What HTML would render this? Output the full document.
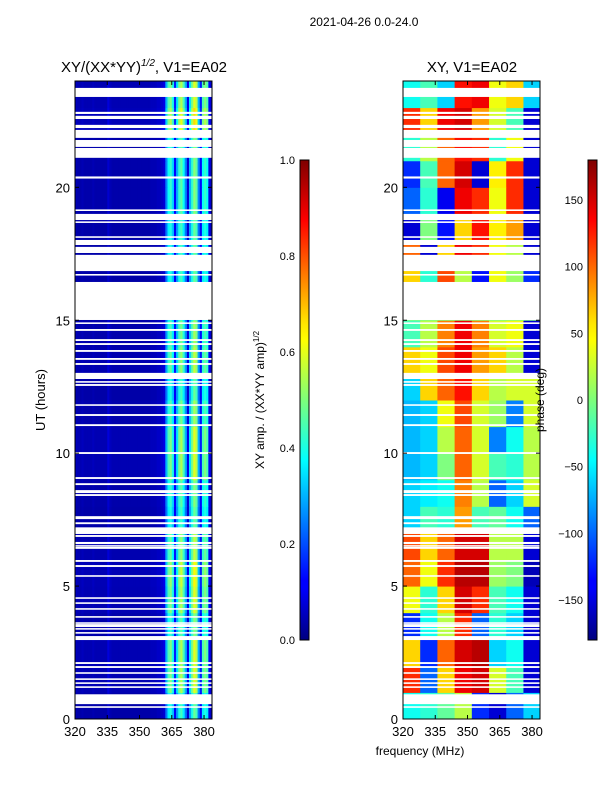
<!DOCTYPE html>
<html><head><meta charset="utf-8">
<style>
html,body{margin:0;padding:0;background:#fff;}
svg text{font-family:"Liberation Sans","DejaVu Sans",sans-serif;fill:#000;}
</style></head>
<body>
<svg id="fig" width="600" height="800" viewBox="0 0 600 800" xmlns="http://www.w3.org/2000/svg">
<defs>
<linearGradient id="jet" x1="0" y1="1" x2="0" y2="0">
<stop offset="0" stop-color="#00007f"/><stop offset="0.11" stop-color="#0000ff"/>
<stop offset="0.125" stop-color="#0000ff"/><stop offset="0.34" stop-color="#00dcff"/>
<stop offset="0.375" stop-color="#00ffff"/><stop offset="0.5" stop-color="#7dff7a"/>
<stop offset="0.625" stop-color="#ffff00"/><stop offset="0.66" stop-color="#ffe600"/>
<stop offset="0.875" stop-color="#ff0000"/><stop offset="1" stop-color="#7f0000"/>
</linearGradient>
<clipPath id="clipL"><rect x="75" y="81" width="137" height="638"/></clipPath>
<clipPath id="clipR"><rect x="403" y="81" width="137" height="638"/></clipPath>
</defs>
<text x="364" y="26" font-size="12" text-anchor="middle">2021-04-26 0.0-24.0</text>
<text x="144" y="72" font-size="15" text-anchor="middle">XY/(XX*YY)<tspan font-size="10" dy="-6" font-style="italic">1/2</tspan><tspan dy="6">, V1=EA02</tspan></text>
<text x="472" y="72" font-size="15" text-anchor="middle">XY, V1=EA02</text>
<g id="left" clip-path="url(#clipL)"></g>
<g id="right" clip-path="url(#clipR)"></g>
<g id="axes"></g>
<text x="45" y="400" font-size="13" text-anchor="middle" transform="rotate(-90 45 400)">UT (hours)</text>
<text x="420" y="755" font-size="12" text-anchor="middle">frequency (MHz)</text>
<rect x="300" y="160" width="9" height="480" fill="url(#jet)" stroke="#000" stroke-width="1"/>
<rect x="588" y="160" width="9" height="480" fill="url(#jet)" stroke="#000" stroke-width="1"/>
<text x="264" y="400" font-size="12" text-anchor="middle" transform="rotate(-90 264 400)">XY amp. / (XX*YY amp)<tspan font-size="8" dy="-5">1/2</tspan></text>
<text x="544" y="400" font-size="12" text-anchor="middle" transform="rotate(-90 544 400)">phase (deg)</text>
</svg>
<script>
// ---- data ----
const ampFreqs = [320,321,322,323,324,325,326,327,328,329,330,331,332,333,334,335,336,337,338,339,340,341,342,343,344,345,346,347,348,349,350,351,352,353,354,355,356,357,358,359,360,361,362,363,364,365,366,367,368,369,370,371,372,373,374,375,376,377,378,379,380,381,382,383];
const ampProfile = [0.06,0.05,0.05,0.06,0.05,0.05,0.05,0.05,0.06,0.05,0.05,0.05,0.05,0.05,0.05,0.09,0.06,0.05,0.05,0.05,0.05,0.05,0.05,0.05,0.05,0.05,0.05,0.05,0.05,0.05,0.05,0.05,0.05,0.05,0.05,0.06,0.06,0.06,0.07,0.07,0.08,0.1,0.3,0.45,0.5,0.4,0.15,0.35,0.5,0.55,0.45,0.3,0.1,0.35,0.5,0.6,0.55,0.3,0.15,0.45,0.5,0.45,0.12,0.06];
const ampHourScale = [0.8,1.0,1.0,0.85,1.0,1.05,0.95,0.8,0.85,1.0,1.0,0.9,0.8,0.95,0.9,0.8,0.8,0.8,0.8,0.85,0.85,0.85,1.1,1.0];
const phaseFreqEdges = [320,328,336,344,352,360,368,376,384];
const phaseHours = [
[-40,-30,-10,20,-120,-150,-100,-60],
[120,-100,60,140,150,30,-20,-150],
[60,-120,100,150,160,-60,-40,-150],
[-120,-40,20,120,-100,-30,-60,-150],
[40,-30,60,150,120,-20,-40,-150],
[100,40,120,160,160,10,0,-160],
[110,60,100,150,150,20,20,-150],
[-60,-20,-30,80,-20,-10,-40,-100],
[-60,-50,-40,90,20,-100,-60,30],
[-70,-60,0,100,30,-20,-30,20],
[-70,-60,20,100,30,-90,-40,20],
[-70,-60,40,110,30,10,-90,30],
[-60,60,100,130,60,20,30,30],
[60,40,110,140,80,60,20,-150],
[-20,20,90,140,90,30,40,-150],
[0,0,0,0,0,0,0,0],
[60,-30,110,20,-130,40,10,-120],
[100,-150,60,140,120,40,20,-150],
[-150,0,-130,60,130,50,80,-150],
[-100,-30,-140,140,120,40,120,-150],
[-120,-20,100,150,-150,50,120,-150],
[-30,20,100,130,120,-30,40,-150],
[120,60,140,150,80,30,-20,-150],
[-40,-20,-60,130,140,40,60,-60]];
const flagStart = [23.40,22.76,22.57,22.23,21.86,21.52,21.11,20.33,19.11,18.77,18.66,18.10,17.83,17.53,16.85,16.68,15.01,14.86,14.60,14.22,14.07,13.81,13.51,13.32,12.79,12.65,12.53,11.78,11.40,11.02,9.97,9.03,8.80,8.50,8.39,7.52,7.33,6.96,6.85,6.58,6.48,6.40,5.91,5.72,5.35,4.52,4.33,4.11,3.81,3.58,3.46,3.36,3.21,2.97,2.07,1.92,1.70,1.47,1.32,1.17,0.56,0.42];
const flagEnd   = [23.74,22.84,22.69,22.35,22.16,21.78,21.48,20.41,19.17,19.00,18.72,18.16,18.02,17.76,17.46,16.74,16.44,14.92,14.67,14.29,14.14,13.88,13.58,13.39,13.02,12.71,12.60,11.84,11.47,11.09,10.04,9.10,8.87,8.61,8.46,7.63,7.40,7.21,6.92,6.66,6.54,6.47,5.98,5.79,5.41,4.58,4.39,4.17,3.87,3.64,3.57,3.42,3.27,3.12,2.14,1.99,1.76,1.53,1.38,1.23,0.93,0.48];
const xTicks = [320,335,350,365,380];
const yTicks = [0,5,10,15,20];
const ampTicks = [0.0,0.2,0.4,0.6,0.8,1.0];
const phaseTicks = [-150,-100,-50,0,50,100,150];

// ---- scales ----
const NS="http://www.w3.org/2000/svg";
const pxPerMHz = 137/63.7;
const xL = f => 75 + (f-320)*pxPerMHz;
const xR = f => 403 + (f-320)*pxPerMHz;
const yT = h => 719 - h*(638/24);
const cbAmp = v => 640 - v*480;
const cbPh = v => 640 - (v+180)/360*480;
function jet(t){t=Math.max(0,Math.min(1,t));
 const c=v=>Math.round(255*Math.max(0,Math.min(1,v)));
 return `rgb(${c(1.5-Math.abs(4*t-3))},${c(1.5-Math.abs(4*t-2))},${c(1.5-Math.abs(4*t-1))})`;}
function mk(tag,attrs,parent){const e=document.createElementNS(NS,tag);for(const k in attrs)e.setAttribute(k,attrs[k]);parent.appendChild(e);return e;}

const gL=document.getElementById('left'), gR=document.getElementById('right'), gA=document.getElementById('axes');
for(let h=0;h<24;h++){
 for(let i=0;i<ampFreqs.length;i++){
  const v=ampProfile[i]*ampHourScale[h];
  const r=mk('rect',{x:xL(ampFreqs[i]),y:yT(h+1),width:pxPerMHz+0.5,height:638/24+0.5,fill:jet(v)},gL);
  
  
 }
}
for(let h=0;h<24;h++){
 for(let j=0;j<8;j++){
  const v=phaseHours[h][j];
  const r=mk('rect',{x:xR(phaseFreqEdges[j]),y:yT(h+1),width:(phaseFreqEdges[j+1]-phaseFreqEdges[j])*pxPerMHz+0.5,height:638/24+0.5,fill:jet((v+180)/360)},gR);
  
  
 }
}
for(let k=0;k<flagStart.length;k++){
 for(const [g,x0] of [[gL,75],[gR,403]]){
  const r=mk('rect',{x:x0,y:yT(flagEnd[k]),width:137,height:Math.max(1.5,yT(flagStart[k])-yT(flagEnd[k])),fill:'#fff'},g);
  
  
 }
}
for(const [x0,xs] of [[75,xL],[403,xR]]){
 const f=mk('rect',{x:x0,y:81,width:137,height:638,fill:'none',stroke:'#000','stroke-width':1},gA);
 
 
 for(const t of xTicks){
  mk('line',{x1:xs(t),x2:xs(t),y1:719,y2:715,stroke:'#000'},gA);
  mk('line',{x1:xs(t),x2:xs(t),y1:81,y2:85,stroke:'#000'},gA);
  const tx=mk('text',{x:xs(t),y:736,'font-size':13,'text-anchor':'middle'},gA);
  tx.textContent=t;
  
  
 }
 for(const t of yTicks){
  mk('line',{x1:x0,x2:x0+4,y1:yT(t),y2:yT(t),stroke:'#000'},gA);
  mk('line',{x1:x0+137,x2:x0+133,y1:yT(t),y2:yT(t),stroke:'#000'},gA);
  const tx=mk('text',{x:x0-5,y:yT(t)+5,'font-size':13,'text-anchor':'end'},gA);
  tx.textContent=t;
  
  
 }
}
for(const t of ampTicks){
 mk('line',{x1:300,x2:303,y1:cbAmp(t),y2:cbAmp(t),stroke:'#000'},gA);
 const tx=mk('text',{x:295,y:cbAmp(t)+4,'font-size':11,'text-anchor':'end'},gA);
 tx.textContent=t.toFixed(1);
 
 
}
for(const t of phaseTicks){
 mk('line',{x1:588,x2:591,y1:cbPh(t),y2:cbPh(t),stroke:'#000'},gA);
 const tx=mk('text',{x:583,y:cbPh(t)+4,'font-size':11,'text-anchor':'end'},gA);
 tx.textContent=t<0?'\u2212'+Math.abs(t):String(t);
 
 
}
</script>
</body></html>
